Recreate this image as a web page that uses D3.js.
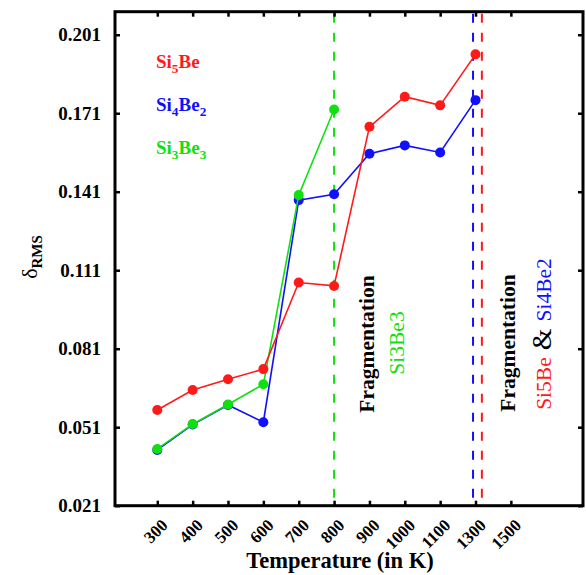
<!DOCTYPE html>
<html><head><meta charset="utf-8">
<script src="https://cdn.jsdelivr.net/npm/d3@7"></script>
<style>body{margin:0;background:#fff}svg{display:block}</style>
</head><body>
<script>
const categories = ["300","400","500","600","700","800","900","1000","1100","1300","1500"];
const si5be   = [0.0576,0.0652,0.0693,0.0732,0.1063,0.1050,0.1658,0.1773,0.1740,0.1935];
const si4be2  = [0.0423,0.0520,0.0595,0.0529,0.1378,0.1400,0.1555,0.1587,0.1560,0.1760];
const si3be3  = [0.0427,0.0522,0.0597,0.0674,0.1397,0.1724];
const yTicks  = [0.021,0.051,0.081,0.111,0.141,0.171,0.201];
// fragmentation markers (category-index positions)
const fragSi3Be3 = 5;
const fragSi4Be2 = 8.93;
const fragSi5Be  = 9.18;

const W = 586, H = 575;
const L = 115, R = 583, T = 11.7, B = 505.7;
const svg = d3.select("body").append("svg").attr("width", W).attr("height", H);
const font = "Liberation Serif, Times New Roman, serif";

const x = d3.scaleLinear().domain([-1.196, 12.04]).range([L, R]);
const y = d3.scaleLinear().domain([0.021, 0.2098]).range([B, T]);

const red = "#ff1a1a", blue = "#1010ff", green = "#10e010";

// dashed fragmentation lines
[[fragSi3Be3, green],[fragSi4Be2, blue],[fragSi5Be, red]].forEach(([v,c]) => {
  svg.append("line").attr("x1", x(v)).attr("x2", x(v)).attr("y1", T+2).attr("y2", B-2)
    .attr("stroke", c).attr("stroke-width", 2).attr("stroke-dasharray", "9,10");
});

// series (drawn blue, green, red)
const series = [[si4be2, blue],[si3be3, green],[si5be, red]];
const line = d3.line().x((d,i) => x(i)).y(d => y(d));
series.forEach(([vals,c]) => {
  const g = svg.append("g");
  g.append("path").datum(vals).attr("d", line).attr("fill","none").attr("stroke",c).attr("stroke-width",1.6);
  g.selectAll("circle").data(vals).join("circle")
    .attr("cx",(d,i)=>x(i)).attr("cy",d=>y(d)).attr("r",5).attr("fill",c);
});

// axes (inward ticks on all four sides)
const tickIdx = categories.map((c,i)=>i);
const axB = d3.axisBottom(x).tickValues(tickIdx).tickSize(-5).tickFormat("");
const axT = d3.axisTop(x).tickValues(tickIdx).tickSize(-5).tickFormat("");
const axL = d3.axisLeft(y).tickValues(yTicks).tickSize(-5).tickFormat("");
const axR = d3.axisRight(y).tickValues(yTicks).tickSize(-5).tickFormat("");
[[axB,`translate(0,${B})`],[axT,`translate(0,${T})`],[axL,`translate(${L},0)`],[axR,`translate(${R},0)`]].forEach(([a,t])=>{
  const g = svg.append("g").attr("transform",t).call(a);
  g.select(".domain").remove();
  g.selectAll(".tick line").attr("stroke","#000").attr("stroke-width",2.5);
});
svg.append("rect").attr("x",L).attr("y",T).attr("width",R-L).attr("height",B-T)
  .attr("fill","none").attr("stroke","#000").attr("stroke-width",3);

// y tick labels
svg.append("g").selectAll("text").data(yTicks).join("text")
  .attr("x", 101).attr("y", d=>y(d)).attr("dy","0.35em").attr("text-anchor","end")
  .attr("font-family",font).attr("font-weight","bold").attr("font-size",19)
  .text(d=>d.toFixed(3));

// x tick labels
svg.append("g").selectAll("text").data(categories).join("text")
  .attr("transform",(d,i)=>`translate(${x(i)+3},${B+12}) rotate(-45)`)
  .attr("text-anchor","end").attr("dy","0.7em")
  .attr("font-family",font).attr("font-weight","bold").attr("font-size",17)
  .text(d=>d);

// axis titles
svg.append("text").attr("x",340).attr("y",568).attr("text-anchor","middle")
  .attr("font-family",font).attr("font-weight","bold").attr("font-size",22.5)
  .text("Temperature (in K)");
const yl = svg.append("text").attr("transform","translate(37,257) rotate(-90)").attr("text-anchor","middle")
  .attr("font-family",font).attr("font-size",22);
yl.append("tspan").text("δ");
yl.append("tspan").attr("font-size",15).attr("font-weight","bold").attr("dy",5).text("RMS");

// legend
function chem(g, parts, xx, yy, color, size, weight){
  const t = g.append("text").attr("x",xx).attr("y",yy).attr("fill",color)
    .attr("font-family",font).attr("font-weight",weight).attr("font-size",size);
  parts.forEach(p=>{
    if (p.sub) t.append("tspan").attr("font-size",size*0.7).attr("dy",size*0.28).text(p.t);
    else t.append("tspan").attr("dy", p.back ? -size*0.28 : 0).text(p.t);
  });
  return t;
}
chem(svg,[{t:"Si"},{t:"5",sub:1},{t:"Be",back:1}],156,68,red,19,"bold");
chem(svg,[{t:"Si"},{t:"4",sub:1},{t:"Be",back:1},{t:"2",sub:1}],156,111,blue,19,"bold");
chem(svg,[{t:"Si"},{t:"3",sub:1},{t:"Be",back:1},{t:"3",sub:1}],156,154,green,19,"bold");

// annotations
function vtext(xx, yy, size, weight, parts){
  const t = svg.append("text").attr("transform",`translate(${xx},${yy}) rotate(-90)`).attr("text-anchor","middle")
    .attr("font-family",font).attr("font-size",size).attr("font-weight",weight);
  parts.forEach(p=>t.append("tspan").attr("fill",p.c).attr("font-size",p.s||size).attr("font-weight",p.w||weight).text(p.t));
}
vtext(374,344,21.5,"bold",[{t:"Fragmentation",c:"#000"}]);
vtext(404,343,21.5,"normal",[{t:"Si3Be3",c:green}]);
vtext(515,343,21.5,"bold",[{t:"Fragmentation",c:"#000"}]);
vtext(551,334,21.5,"normal",[{t:"Si5Be",c:red},{t:" & ",c:"#000",s:28},{t:"Si4Be2",c:blue}]);
</script>
</body></html>
